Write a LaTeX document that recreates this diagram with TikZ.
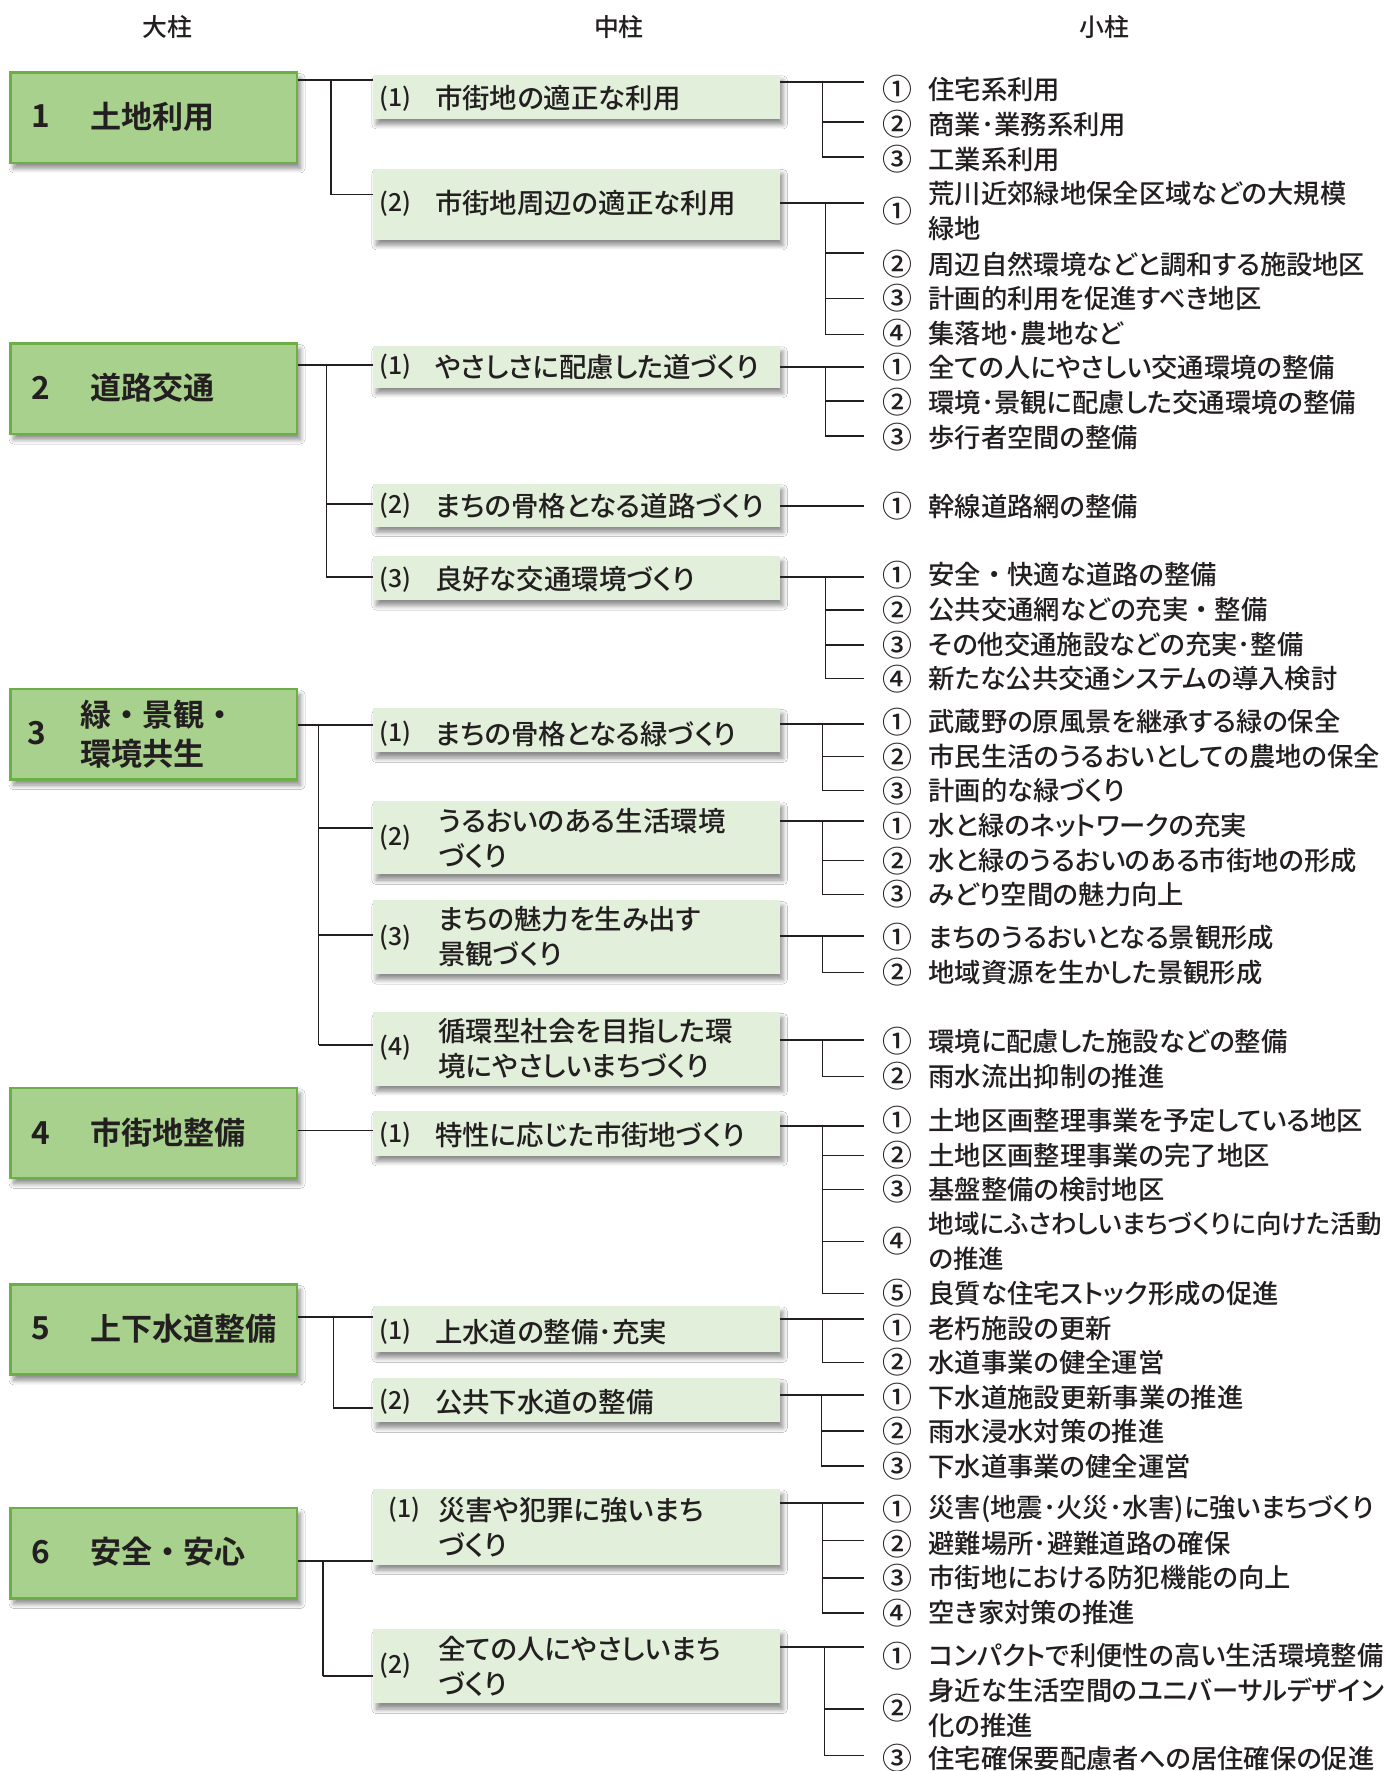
\documentclass[tikz,border=0pt]{standalone}
\usepackage{fontspec}
\setmainfont[UprightFont={* Medium},BoldFont={* Bold},RawFeature=+palt]{Noto Sans CJK JP}
\usetikzlibrary{shadows.blur}
\definecolor{bigfill}{HTML}{A9D18E}
\definecolor{bigline}{HTML}{6DAE47}
\definecolor{midfill}{HTML}{E2EFDA}
\definecolor{ink}{HTML}{231F20}
\newcommand\fdot{\makebox[1em]{・}}
\tikzset{
  shad/.style={blur shadow={shadow xshift=3pt, shadow yshift=-5pt, shadow opacity=45, shadow blur steps=8, shadow blur radius=4pt}},
  bigbox/.style={draw=bigline, line width=2.2pt, fill=bigfill, minimum width=254pt, minimum height=80pt, anchor=north west, inner sep=0pt, shad},
  midbox/.style={fill=midfill, minimum width=360pt, anchor=north west, inner sep=0pt, shad},
  hdr/.style={font=\fontsize{22}{26}\selectfont, text=ink, inner sep=0pt},
  bignum/.style={font=\bfseries\fontsize{28}{32}\selectfont, text=ink, inner sep=0pt},
  bigtxt/.style={font=\bfseries\fontsize{27.5}{34}\selectfont, text=ink, anchor=west, inner sep=0pt, align=left},
  midnum/.style={font=\fontsize{22}{26}\selectfont, text=ink, anchor=west, inner sep=0pt},
  midtxt/.style={font=\fontsize{24.3}{31}\selectfont, text=ink, anchor=west, inner sep=0pt, align=left},
  circ/.style={font=\fontsize{26.5}{28}\selectfont, text=ink, inner sep=0pt},
  smtxt/.style={font=\fontsize{23.3}{31}\selectfont, text=ink, anchor=west, inner sep=0pt, align=left},
  conn/.style={draw=ink, line width=1.7pt},
  vconn/.style={draw=ink, line width=1.1pt},
}
\newcommand\MidB[3]{\node[midbox, minimum height=#3pt] (#1) at (330,#2) {};}
\newcommand\SItem[4]{\node[circ] (#1c) at (795,#2) {#3};\node[smtxt] (#1t) at (822,#2) {#4};}
\newcommand\RGroup[4]{%
  \draw[conn] (#1.east |- 0,#2) -- (765,#2);
  \foreach \yy in {#4} {\draw[vconn] (#3,#2) |- (765,\yy);}
}
\begin{document}
\begin{tikzpicture}[x=1pt,y=-1pt]
\useasboundingbox (0,0) rectangle (1234,1568);
\fill[white] (0,0) rectangle (1234,1568);

% headers
\node[hdr] (h1) at (148,24) {大柱};
\node[hdr] (h2) at (548,24) {中柱};
\node[hdr] (h3) at (978,24) {小柱};

% big boxes
\node[bigbox] (b1) at (8,63) {};
\node[bigbox] (b2) at (8,303) {};
\node[bigbox] (b3) at (8,609) {};
\node[bigbox] (b4) at (8,962) {};
\node[bigbox] (b5) at (8,1136) {};
\node[bigbox] (b6) at (8,1334) {};
\node[bignum] (b1n) at (36,103) {1};
\node[bigtxt] (b1t) at (80,103) {土地利用};
\node[bignum] (b2n) at (36,343) {2};
\node[bigtxt] (b2t) at (80,343) {道路交通};
\node[bignum] (b3n) at (33,649) {3};
\node[bigtxt] (b3t) at (71,650) {緑\fdot 景観\fdot\\環境共生};
\node[bignum] (b4n) at (36,1003) {4};
\node[bigtxt] (b4t) at (80,1003) {市街地整備};
\node[bignum] (b5n) at (36,1176) {5};
\node[bigtxt] (b5t) at (80,1176) {上下水道整備};
\node[bignum] (b6n) at (36,1374) {6};
\node[bigtxt] (b6t) at (80,1374) {安全\fdot 安心};

% middle boxes
\MidB{m11}{66}{39}
\MidB{m12}{149}{63}
\MidB{m21}{306}{37}
\MidB{m22}{428}{38}
\MidB{m23}{492}{39}
\MidB{m31}{627}{39}
\MidB{m32}{709}{65}
\MidB{m33}{797}{65}
\MidB{m34}{896}{65}
\MidB{m41}{983}{40}
\MidB{m51}{1156}{41}
\MidB{m52}{1220}{39}
\MidB{m61}{1318}{67}
\MidB{m62}{1442}{66}

\node[midnum] (m11n) at (336,87) {(1)};
\node[midtxt] (m11t) at (385,87) {市街地の適正な利用};
\node[midnum] (m12n) at (336,180) {(2)};
\node[midtxt] (m12t) at (385,180) {市街地周辺の適正な利用};
\node[midnum] (m21n) at (336,325) {(1)};
\node[midtxt] (m21t) at (385,325) {やさしさに配慮した道づくり};
\node[midnum] (m22n) at (336,448) {(2)};
\node[midtxt] (m22t) at (385,448) {まちの骨格となる道路づくり};
\node[midnum] (m23n) at (336,513) {(3)};
\node[midtxt] (m23t) at (385,513) {良好な交通環境づくり};
\node[midnum] (m31n) at (336,650) {(1)};
\node[midtxt] (m31t) at (385,650) {まちの骨格となる緑づくり};
\node[midnum] (m32n) at (336,742) {(2)};
\node[midtxt] (m32t) at (388,742) {うるおいのある生活環境\\づくり};
\node[midnum] (m33n) at (336,830) {(3)};
\node[midtxt] (m33t) at (388,829) {まちの魅力を生み出す\\景観づくり};
\node[midnum] (m34n) at (336,928) {(4)};
\node[midtxt] (m34t) at (388,928) {循環型社会を目指した環\\境にやさしいまちづくり};
\node[midnum] (m41n) at (336,1005) {(1)};
\node[midtxt] (m41t) at (385,1005) {特性に応じた市街地づくり};
\node[midnum] (m51n) at (336,1179) {(1)};
\node[midtxt] (m51t) at (385,1179) {上水道の整備･充実};
\node[midnum] (m52n) at (336,1241) {(2)};
\node[midtxt] (m52t) at (385,1241) {公共下水道の整備};
\node[midnum] (m61n) at (344,1337) {(1)};
\node[midtxt] (m61t) at (388,1352) {災害や犯罪に強いまち\\づくり};
\node[midnum] (m62n) at (336,1475) {(2)};
\node[midtxt] (m62t) at (388,1475) {全ての人にやさしいまち\\づくり};

% left connectors
\draw[conn] (b1.east |- 0,71) -- (m11.west |- 0,71);
\draw[vconn] (293,71) |- (m12.west |- 0,172);
\draw[conn] (b2.east |- 0,323) -- (m21.west |- 0,323);
\draw[vconn] (289,323) -- (289,511);
\draw[conn] (289,446) -- (m22.west |- 0,446);
\draw[conn] (289,511) -- (m23.west |- 0,511);
\draw[conn] (b3.east |- 0,642) -- (m31.west |- 0,642);
\draw[vconn] (282,642) -- (282,925);
\draw[conn] (282,733) -- (m32.west |- 0,733);
\draw[conn] (282,828) -- (m33.west |- 0,828);
\draw[conn] (282,925) -- (m34.west |- 0,925);
\draw[vconn] (b4.east |- 0,1001) -- (m41.west |- 0,1001);
\draw[conn] (b5.east |- 0,1166) -- (m51.west |- 0,1166);
\draw[vconn] (295,1166) -- (295,1247);
\draw[conn] (295,1247) -- (m52.west |- 0,1247);
\draw[conn] (b6.east |- 0,1382) -- (m61.west |- 0,1382);
\draw[vconn] (286,1382) -- (286,1484);
\draw[conn] (286,1484) -- (m62.west |- 0,1484);

% small items
\SItem{s11a}{79}{①}{住宅系利用}
\SItem{s11b}{110}{②}{商業･業務系利用}
\SItem{s11c}{141}{③}{工業系利用}
\SItem{s12a}{187}{①}{荒川近郊緑地保全区域などの大規模\\緑地}
\SItem{s12b}{234}{②}{周辺自然環境などと調和する施設地区}
\SItem{s12c}{264}{③}{計画的利用を促進すべき地区}
\SItem{s12d}{295}{④}{集落地･農地など}
\SItem{s21a}{325}{①}{全ての人にやさしい交通環境の整備}
\SItem{s21b}{356}{②}{環境･景観に配慮した交通環境の整備}
\SItem{s21c}{387}{③}{歩行者空間の整備}
\SItem{s22a}{448}{①}{幹線道路網の整備}
\SItem{s23a}{509}{①}{安全\fdot 快適な道路の整備}
\SItem{s23b}{540}{②}{公共交通網などの充実\fdot 整備}
\SItem{s23c}{571}{③}{その他交通施設などの充実･整備}
\SItem{s23d}{601}{④}{新たな公共交通システムの導入検討}
\SItem{s31a}{639}{①}{武蔵野の原風景を継承する緑の保全}
\SItem{s31b}{670}{②}{市民生活のうるおいとしての農地の保全}
\SItem{s31c}{700}{③}{計画的な緑づくり}
\SItem{s32a}{731}{①}{水と緑のネットワークの充実}
\SItem{s32b}{762}{②}{水と緑のうるおいのある市街地の形成}
\SItem{s32c}{792}{③}{みどり空間の魅力向上}
\SItem{s33a}{830}{①}{まちのうるおいとなる景観形成}
\SItem{s33b}{861}{②}{地域資源を生かした景観形成}
\SItem{s34a}{922}{①}{環境に配慮した施設などの整備}
\SItem{s34b}{953}{②}{雨水流出抑制の推進}
\SItem{s41a}{992}{①}{土地区画整理事業を予定している地区}
\SItem{s41b}{1023}{②}{土地区画整理事業の完了地区}
\SItem{s41c}{1053}{③}{基盤整備の検討地区}
\node[circ] (s41dc) at (795,1099) {④};
\node[smtxt, font=\fontsize{22.6}{31}\selectfont] (s41dt) at (822,1099) {地域にふさわしいまちづくりに向けた活動\\の推進};
\SItem{s41e}{1145}{⑤}{良質な住宅ストック形成の促進}
\SItem{s51a}{1176}{①}{老朽施設の更新}
\SItem{s51b}{1206}{②}{水道事業の健全運営}
\SItem{s52a}{1237}{①}{下水道施設更新事業の推進}
\SItem{s52b}{1267}{②}{雨水浸水対策の推進}
\SItem{s52c}{1298}{③}{下水道事業の健全運営}
\SItem{s61a}{1336}{①}{災害(地震･火災･水害)に強いまちづくり}
\SItem{s61b}{1367}{②}{避難場所･避難道路の確保}
\SItem{s61c}{1397}{③}{市街地における防犯機能の向上}
\SItem{s61d}{1428}{④}{空き家対策の推進}
\SItem{s62a}{1466}{①}{コンパクトで利便性の高い生活環境整備}
\SItem{s62b}{1512}{②}{身近な生活空間のユニバーサルデザイン\\化の推進}
\SItem{s62c}{1557}{③}{住宅確保要配慮者への居住確保の促進}

% right connectors
\RGroup{m11}{73}{728}{108,139}
\RGroup{m12}{180}{731}{224,264,296}
\RGroup{m21}{325}{731}{355,386}
\draw[conn] (m22.east |- 0,448) -- (765,448);
\RGroup{m23}{511}{731}{540,571,601}
\RGroup{m31}{641}{728}{670,700}
\RGroup{m32}{727}{728}{762,792}
\RGroup{m33}{829}{728}{861}
\RGroup{m34}{921}{728}{953}
\RGroup{m41}{997}{728}{1023,1053,1099,1145}
\RGroup{m51}{1168}{728}{1206}
\RGroup{m52}{1235}{727}{1267,1298}
\RGroup{m61}{1331}{728}{1364,1397,1428}
\RGroup{m62}{1458}{730}{1513,1554}
\end{tikzpicture}
\end{document}
